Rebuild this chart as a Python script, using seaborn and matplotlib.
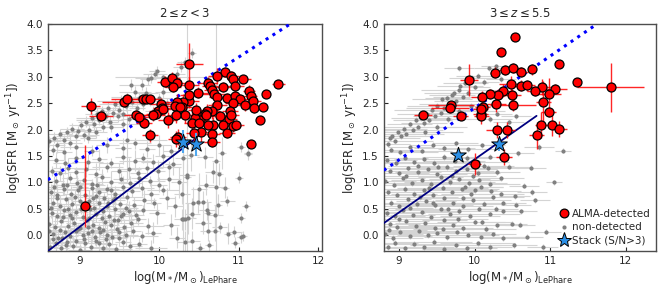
import numpy as np
import pandas as pd
import seaborn as sns
import matplotlib.pyplot as plt
from matplotlib.lines import Line2D

sns.set_style('ticks')
plt.rcParams['font.family'] = ['DejaVu Sans']
plt.rcParams['mathtext.fontset'] = 'dejavusans'

titles = [r'$2 \leq z < 3$', r'$3 \leq z \leq 5.5$']
xlims = [(8.6, 12.05), (8.8, 12.4)]
ylim = (-0.3, 4.0)
xticks = [9, 10, 11, 12]
yticks = [0.0, 0.5, 1.0, 1.5, 2.0, 2.5, 3.0, 3.5, 4.0]

# ALMA-detected sources: (logM, logSFR, xerr, yerr)
alma_lo = [
    (10.38, 3.25, .17, .38), (10.83, 3.09, .10, .10), (10.73, 3.02, .12, .15), (10.91, 3.01, .10, .10),
    (11.06, 2.96, .10, .08), (10.93, 2.96, .08, .08), (11.50, 2.87, .08, .05), (10.07, 2.91, .10, .10),
    (10.16, 2.97, .10, .12), (10.22, 2.88, .10, .12), (10.18, 2.81, .10, .10), (10.38, 2.85, .12, .15),
    (10.61, 2.88, .12, .12), (10.64, 2.82, .10, .12), (10.66, 2.75, .10, .10), (10.80, 2.81, .10, .10),
    (10.95, 2.83, .12, .10), (10.49, 2.70, .12, .10), (10.69, 2.68, .15, .12), (10.73, 2.62, .10, .10),
    (10.85, 2.60, .10, .10), (10.95, 2.63, .10, .12), (11.02, 2.57, .10, .10), (11.13, 2.74, .08, .10),
    (11.15, 2.63, .08, .10), (11.18, 2.55, .10, .10), (11.34, 2.68, .05, .05), (11.08, 2.46, .10, .10),
    (11.19, 2.41, .08, .10), (11.31, 2.43, .05, .05), (11.27, 2.18, .05, .05), (10.93, 2.50, .10, .12),
    (10.89, 2.36, .10, .10), (10.73, 2.46, .12, .12), (10.67, 2.36, .10, .15), (10.60, 2.36, .10, .12),
    (10.77, 2.25, .12, .10), (10.88, 2.20, .10, .10), (10.90, 2.28, .10, .10), (10.93, 2.06, .10, .10),
    (10.81, 2.08, .10, .12), (10.68, 2.08, .10, .15), (10.62, 2.09, .10, .10), (10.58, 2.30, .10, .12),
    (10.51, 2.19, .10, .15), (10.45, 2.22, .12, .15), (10.41, 2.13, .10, .20), (10.46, 2.38, .10, .12),
    (10.38, 2.55, .12, .15), (10.38, 2.66, .12, .15), (10.30, 2.53, .12, .15), (10.29, 2.43, .12, .15),
    (10.22, 2.52, .15, .15), (10.20, 2.45, .12, .12), (10.26, 2.43, .10, .12), (10.32, 2.27, .10, .15),
    (10.21, 2.27, .10, .15), (10.11, 2.18, .12, .15), (10.03, 2.49, .15, .10), (10.04, 2.41, .12, .10),
    (9.99, 2.36, .12, .10), (9.96, 2.30, .12, .10), (9.92, 2.27, .15, .10), (9.81, 2.13, .10, .10),
    (9.71, 2.28, .15, .10), (9.75, 2.24, .12, .10), (9.80, 2.58, .15, .08), (9.84, 2.58, .12, .08),
    (9.89, 2.58, .12, .08), (9.14, 2.44, .12, .15), (9.27, 2.26, .15, .10), (9.56, 2.53, .28, .10),
    (9.60, 2.57, .20, .10), (9.89, 1.89, .10, .12), (10.05, 2.39, .10, .10), (10.50, 2.13, .10, .15),
    (10.53, 1.96, .10, .20), (10.44, 1.93, .10, .20), (10.67, 1.92, .10, .15), (10.67, 1.77, .10, .10),
    (10.85, 1.94, .10, .10), (10.97, 2.09, .10, .10), (11.15, 1.72, .06, .05), (10.24, 1.86, .10, .15),
    (10.21, 1.82, .10, .15), (10.59, 2.28, .10, .10),
]
# low-mass detection with asymmetric SFR error: (x, y, xerr, yerr_low, yerr_high)
alma_lo_single = (9.07, 0.55, 0.07, 0.39, 1.15)

alma_hi = [
    (10.53, 3.75, .06, .04), (10.35, 3.47, .05, .05), (10.27, 3.08, .06, .10), (10.40, 3.13, .08, .10),
    (10.51, 3.17, .10, .10), (10.61, 3.09, .10, .10), (10.76, 3.14, .05, .10), (11.12, 3.24, .05, .05),
    (11.35, 2.91, .05, .05), (11.80, 2.80, .44, .46), (9.93, 2.94, .12, .30), (10.48, 2.87, .15, .15),
    (10.62, 2.83, .10, .10), (10.70, 2.84, .10, .10), (10.89, 2.80, .15, .15), (10.80, 2.73, .10, .10),
    (11.07, 2.77, .15, .10), (10.99, 2.67, .15, .30), (10.38, 2.74, .12, .12), (10.31, 2.65, .10, .12),
    (10.49, 2.65, .12, .12), (10.20, 2.67, .12, .10), (10.10, 2.62, .15, .12), (10.29, 2.49, .12, .15),
    (10.51, 2.47, .30, .12), (10.91, 2.52, .10, .40), (10.11, 2.42, .10, .10), (9.69, 2.47, .30, .08),
    (9.68, 2.41, .25, .10), (10.08, 2.30, .10, .12), (10.09, 2.25, .10, .15), (9.82, 2.26, .10, .08),
    (9.32, 2.27, .12, .05), (10.98, 2.33, .10, .10), (10.88, 2.09, .08, .25), (11.03, 2.08, .08, .20),
    (11.12, 2.01, .10, .15), (10.43, 2.00, .10, .15), (10.30, 2.00, .15, .15), (10.82, 1.89, .10, .25),
    (10.39, 1.48, .10, .15), (10.00, 1.35, .08, .20), (10.08, 2.39, .10, .10),
]

# stacked measurements: (x, y, yerr)
stack_lo = [(10.30, 1.77, 0.22), (10.46, 1.72, 0.22)]
stack_hi = [(9.78, 1.52, 0.10), (10.32, 1.72, 0.12)]

# main-sequence relations (end points)
dotted_lo = ([8.6, 11.65], [1.05, 4.0])
solid_lo = ([8.6, 10.45], [-0.3, 1.82])
dotted_hi = ([8.8, 11.62], [1.23, 4.0])
solid_hi = ([8.8, 10.82], [0.23, 2.26])

# non-detected sources: (x, y, xerr, yerr)
gray_lo = [
    (8.62, 1.78, .15, .10), (8.68, 1.85, .20, .10), (8.72, 1.70, .10, .15), (8.75, 1.92, .15, .10), (8.80, 1.80, .20, .10),
    (8.84, 1.95, .10, .10), (8.88, 1.75, .15, .12), (8.90, 2.02, .15, .10), (8.95, 1.88, .25, .10), (8.98, 1.97, .10, .10),
    (9.02, 2.08, .15, .10), (9.05, 1.90, .20, .12), (9.08, 2.15, .10, .10), (9.12, 2.00, .15, .10), (9.15, 2.22, .20, .10),
    (9.18, 2.10, .10, .12), (9.22, 2.30, .15, .10), (9.25, 2.18, .30, .10), (9.28, 2.35, .10, .10), (9.30, 2.05, .15, .10),
    (9.33, 2.25, .20, .10), (9.36, 2.40, .15, .12), (9.38, 2.15, .10, .10), (9.42, 2.32, .15, .10), (9.45, 2.48, .20, .10),
    (9.48, 2.25, .10, .10), (9.50, 2.38, .15, .10), (9.52, 2.55, .30, .10), (9.55, 2.30, .10, .12), (9.58, 2.45, .15, .10),
    (9.60, 2.62, .20, .10), (9.62, 2.20, .10, .10), (9.65, 2.85, .15, .10), (9.66, 2.52, .15, .10), (9.70, 2.72, .20, .10),
    (9.72, 2.40, .10, .10), (9.75, 2.60, .15, .12), (9.78, 2.85, .10, .10), (9.80, 2.48, .20, .10), (9.83, 2.70, .15, .10),
    (9.86, 2.95, .10, .10), (9.88, 2.55, .15, .10), (9.90, 2.98, .20, .10), (9.92, 2.35, .10, .10), (9.95, 3.05, .15, .10),
    (9.97, 3.10, .10, .10), (10.00, 2.60, .15, .10), (10.05, 2.72, .10, .12), (10.10, 2.50, .15, .10), (10.28, 3.19, .10, .10),
    (10.33, 3.28, .10, .10), (10.41, 3.45, .05, .10), (10.22, 3.05, .10, .10), (9.40, 2.05, .15, .10), (9.55, 2.10, .20, .10),
    (9.20, 1.95, .15, .10), (9.10, 1.85, .10, .10),
    (8.63, -0.22, .10, .15), (8.70, -0.15, .15, .20), (8.77, -0.25, .10, .10), (8.84, -0.12, .20, .15), (8.92, -0.20, .10, .20),
    (9.00, -0.27, .15, .10), (9.07, -0.14, .10, .15), (9.14, -0.22, .20, .20), (9.21, -0.10, .10, .10), (9.29, -0.24, .15, .15),
    (9.37, -0.17, .10, .20), (9.46, -0.26, .20, .10), (9.55, -0.13, .10, .15), (9.64, -0.21, .15, .20), (9.75, -0.16, .10, .10),
    (9.90, -0.24, .20, .15),
    (8.66, 0.02, .15, .20), (8.73, -0.05, .10, .15), (8.81, 0.06, .20, .10), (8.88, -0.02, .10, .20), (8.96, 0.08, .15, .15),
    (9.04, 0.00, .10, .10), (9.11, 0.05, .20, .20), (9.19, -0.04, .10, .15), (9.26, 0.07, .15, .10), (9.34, 0.01, .10, .20),
    (9.41, -0.03, .20, .15), (9.50, 0.06, .10, .10), (9.58, 0.00, .15, .20), (9.67, 0.09, .10, .15), (9.78, -0.02, .20, .10),
    (9.92, 0.05, .10, .20),
    (8.62, 0.22, .10, .15), (8.69, 0.15, .15, .20), (8.77, 0.27, .10, .10), (8.85, 0.18, .20, .15), (8.93, 0.24, .10, .20),
    (9.01, 0.14, .15, .10), (9.09, 0.28, .10, .15), (9.17, 0.20, .20, .20), (9.24, 0.13, .10, .10), (9.32, 0.26, .15, .15),
    (9.40, 0.19, .10, .20), (9.48, 0.29, .20, .10), (9.56, 0.16, .10, .15), (9.65, 0.23, .15, .20), (9.74, 0.30, .10, .10),
    (9.86, 0.18, .20, .15),
    (8.65, 0.42, .15, .20), (8.72, 0.36, .10, .15), (8.80, 0.47, .20, .10), (8.88, 0.39, .10, .20), (8.96, 0.44, .15, .15),
    (9.04, 0.35, .10, .10), (9.13, 0.49, .20, .20), (9.21, 0.40, .10, .15), (9.29, 0.46, .15, .10), (9.37, 0.37, .10, .20),
    (9.45, 0.50, .20, .15), (9.54, 0.41, .10, .10), (9.62, 0.45, .15, .20), (9.71, 0.38, .10, .15), (9.80, 0.48, .20, .10),
    (9.97, 0.42, .10, .20),
    (8.67, 0.62, .10, .15), (8.75, 0.56, .15, .20), (8.83, 0.68, .10, .10), (8.91, 0.59, .20, .15), (9.00, 0.65, .10, .20),
    (9.09, 0.57, .15, .10), (9.17, 0.70, .10, .15), (9.25, 0.61, .20, .20), (9.34, 0.55, .10, .10), (9.42, 0.67, .15, .15),
    (9.51, 0.60, .10, .20), (9.60, 0.72, .20, .10), (9.69, 0.58, .10, .15), (9.81, 0.66, .15, .20), (9.93, 0.61, .10, .10),
    (8.64, 0.82, .15, .15), (8.72, 0.77, .10, .20), (8.80, 0.88, .20, .10), (8.89, 0.79, .10, .15), (8.98, 0.85, .15, .20),
    (9.07, 0.76, .10, .10), (9.16, 0.90, .20, .15), (9.25, 0.81, .10, .20), (9.34, 0.87, .15, .10), (9.44, 0.78, .10, .15),
    (9.55, 0.92, .20, .20), (9.66, 0.83, .10, .10), (9.78, 0.89, .15, .15), (9.90, 0.79, .10, .20), (10.05, 0.86, .20, .10),
    (8.70, 1.02, .10, .15), (8.79, 0.96, .15, .20), (8.88, 1.08, .10, .10), (8.97, 0.99, .20, .15), (9.06, 1.05, .10, .20),
    (9.15, 0.97, .15, .10), (9.28, 1.10, .10, .15), (9.40, 1.01, .20, .20), (9.52, 1.07, .10, .10), (9.63, 0.98, .15, .15),
    (9.75, 1.09, .10, .20), (9.88, 1.03, .20, .10), (10.00, 0.96, .10, .15), (10.12, 1.06, .15, .20),
    (8.65, 1.22, .15, .10), (8.75, 1.17, .10, .15), (8.86, 1.27, .20, .20), (8.96, 1.19, .10, .10), (9.08, 1.25, .15, .15),
    (9.20, 1.16, .10, .20), (9.35, 1.29, .20, .10), (9.50, 1.21, .10, .15), (9.62, 1.26, .15, .20), (9.74, 1.18, .10, .10),
    (9.85, 1.28, .20, .15), (9.98, 1.22, .10, .20), (10.12, 1.30, .15, .10),
    (8.70, 1.42, .10, .15), (8.82, 1.36, .15, .20), (8.95, 1.47, .10, .10), (9.10, 1.39, .20, .15), (9.25, 1.44, .10, .20),
    (9.40, 1.37, .15, .10), (9.55, 1.49, .10, .15), (9.70, 1.41, .20, .20), (9.80, 1.46, .10, .10), (9.92, 1.38, .15, .15),
    (10.05, 1.50, .10, .20),
    (8.66, 1.62, .15, .10), (8.80, 1.57, .10, .15), (8.95, 1.68, .20, .20), (9.15, 1.60, .10, .10), (9.35, 1.71, .15, .15),
    (9.55, 1.65, .10, .20), (9.70, 1.74, .20, .10), (9.85, 1.63, .10, .15), (10.00, 1.70, .15, .20), (10.15, 1.60, .10, .10),
    (8.67, -0.08, .10, .15), (8.75, 0.10, .15, .10), (8.83, -0.18, .10, .20), (8.90, 0.32, .20, .15), (8.98, 0.12, .10, .10),
    (9.05, -0.08, .15, .20), (9.12, 0.33, .10, .15), (9.18, 0.52, .20, .10), (9.24, -0.15, .10, .20), (9.30, 0.10, .15, .15),
    (9.36, 0.62, .10, .10), (9.43, 0.28, .20, .20), (9.50, -0.06, .10, .15), (9.58, 0.52, .15, .10), (8.64, 0.52, .10, .20),
    (8.72, 0.70, .20, .15), (8.79, 0.34, .10, .10), (8.86, 0.50, .15, .20), (8.94, 0.72, .10, .15), (9.02, 0.50, .20, .10),
    (9.10, 0.15, .10, .20), (9.20, 0.75, .15, .15), (9.28, 0.33, .10, .10), (9.39, 0.85, .20, .20), (9.47, 0.12, .10, .15),
    (9.52, 0.36, .15, .10), (8.68, 0.92, .10, .20), (8.84, 0.95, .20, .15), (9.00, 0.92, .10, .10), (9.12, 0.65, .15, .20),
    (9.22, 0.95, .10, .15), (9.31, 0.70, .20, .10), (8.61, 0.08, .10, .20), (8.78, -0.05, .15, .15), (8.95, -0.10, .10, .10),
    (9.16, 0.08, .20, .20), (9.33, -0.08, .10, .15), (9.45, 0.70, .15, .10),
    (10.30, 1.47, .10, .20), (10.40, 1.52, .10, .30), (10.58, 1.48, .10, .20), (10.79, 1.56, .05, .30), (11.12, 1.53, .05, .10),
    (10.35, 1.15, .10, .20), (10.68, 1.19, .10, .20), (10.75, 1.16, .05, .20), (11.01, 1.09, .05, .10), (10.72, 0.92, .10, .30),
    (10.83, 0.90, .05, .20), (10.59, 0.96, .10, .20), (10.50, 0.87, .10, .30), (10.29, 0.79, .10, .20), (10.43, 0.62, .10, .30),
    (10.49, 0.63, .05, .20), (10.55, 0.63, .10, .20), (10.74, 0.58, .05, .20), (10.86, 0.65, .10, .10), (11.09, 0.55, .05, .10),
    (10.60, 0.48, .10, .20), (10.61, 0.43, .05, .20), (10.42, 0.41, .10, .30), (10.70, 0.38, .10, .20), (10.29, 0.30, .10, .20),
    (10.33, 0.30, .05, .20), (10.36, 0.32, .10, .30), (11.03, 0.33, .05, .10), (10.55, 0.23, .10, .20), (10.61, 0.09, .10, .20),
    (10.70, 0.09, .05, .20), (10.76, 0.15, .10, .10), (10.87, 0.03, .05, .20), (10.94, 0.07, .10, .10), (11.03, -0.04, .05, .10),
    (11.05, -0.01, .05, .10), (10.95, -0.14, .05, .10), (10.41, -0.11, .10, .20), (10.33, -0.12, .10, .20), (10.63, -0.19, .05, .10),
    (10.51, -0.25, .05, .10), (10.20, 0.55, .10, .20), (10.15, 0.20, .10, .20), (10.22, -0.05, .10, .20), (10.10, 0.70, .10, .20),
    (10.25, 1.00, .10, .30), (10.18, 1.35, .10, .20), (11.03, 1.67, .05, .10), (11.12, 1.56, .05, .10),
    (10.35, 1.10, .05, 2.90), (10.72, 1.40, .05, 2.60), (10.05, 3.00, .60, .05), (9.60, 1.80, .50, .80), (10.30, 0.30, .05, 1.50),
]

gray_hi = [
    (8.85, 1.72, .3, .05), (8.88, 1.85, .4, .05), (8.91, 1.87, .3, .05), (8.95, 1.78, .5, .05), (8.99, 1.95, .3, .05),
    (9.03, 1.88, .4, .05), (9.07, 2.02, .3, .05), (9.10, 1.92, .5, .05), (9.14, 2.10, .3, .05), (9.18, 2.00, .4, .05),
    (9.22, 2.18, .3, .05), (9.25, 2.05, .5, .05), (9.29, 2.22, .4, .05), (9.33, 2.12, .3, .05), (9.37, 2.30, .4, .05),
    (9.40, 2.18, .3, .05), (9.44, 2.38, .5, .05), (9.48, 2.25, .3, .05), (9.51, 2.45, .4, .05), (9.55, 2.32, .3, .05),
    (9.57, 2.57, .4, .05), (9.60, 2.40, .5, .05), (9.64, 2.60, .3, .05), (9.67, 2.48, .4, .05), (9.70, 2.66, .3, .05),
    (9.73, 2.69, .4, .05), (9.76, 2.55, .3, .05), (9.79, 2.75, .5, .05), (9.81, 2.82, .3, .05), (9.85, 2.62, .4, .05),
    (9.88, 2.88, .3, .05), (9.92, 2.70, .4, .05), (9.96, 2.98, .3, .05), (10.00, 2.80, .2, .05), (10.05, 3.02, .3, .05),
    (10.12, 2.90, .2, .05), (10.19, 3.16, .2, .05), (10.28, 3.20, .2, .05), (9.79, 3.16, .2, .05), (10.35, 2.95, .2, .05),
    (9.50, 2.05, .4, .05), (9.35, 1.95, .5, .05), (9.65, 2.20, .3, .05), (9.80, 2.35, .4, .05), (9.95, 2.45, .3, .05),
    (10.10, 2.35, .3, .05), (10.20, 2.20, .3, .05), (10.30, 2.30, .2, .05), (10.45, 2.15, .2, .05), (10.55, 2.25, .2, .05),
    (8.85, -0.22, .4, .05), (8.95, -0.14, .3, .05), (9.08, -0.25, .5, .05), (9.20, -0.16, .6, .05), (9.33, -0.23, .4, .05),
    (9.47, -0.12, .5, .05), (9.60, -0.26, .3, .05), (9.75, -0.18, .6, .05), (9.90, -0.24, .4, .05), (10.04, -0.15, .5, .05),
    (10.20, -0.22, .3, .05), (10.52, -0.19, .3, .05),
    (8.82, 0.02, .5, .05), (8.92, -0.05, .4, .05), (9.02, 0.06, .6, .05), (9.14, -0.02, .3, .05), (9.26, 0.08, .5, .05),
    (9.38, 0.00, .4, .05), (9.50, 0.05, .7, .05), (9.63, -0.04, .3, .05), (9.77, 0.07, .5, .05), (9.92, 0.01, .4, .05),
    (10.08, -0.03, .6, .05), (10.25, 0.02, .3, .05), (10.70, -0.03, .2, .05),
    (8.88, 0.22, .4, .05), (8.98, 0.15, .5, .05), (9.10, 0.27, .3, .05), (9.22, 0.18, .6, .05), (9.35, 0.24, .4, .05),
    (9.48, 0.14, .5, .05), (9.60, 0.28, .3, .05), (9.72, 0.20, .6, .05), (9.85, 0.13, .4, .05), (10.00, 0.26, .5, .05),
    (10.10, 0.25, .3, .05), (10.30, 0.19, .4, .05), (10.50, 0.22, .2, .05),
    (8.84, 0.42, .5, .05), (8.95, 0.36, .4, .05), (9.06, 0.47, .6, .05), (9.18, 0.39, .3, .05), (9.30, 0.44, .5, .05),
    (9.42, 0.35, .4, .05), (9.55, 0.49, .6, .05), (9.68, 0.40, .3, .05), (9.80, 0.46, .5, .05), (9.94, 0.37, .4, .05),
    (10.06, 0.50, .3, .05), (10.20, 0.41, .4, .05), (10.38, 0.45, .3, .05),
    (8.90, 0.62, .4, .05), (9.00, 0.56, .5, .05), (9.12, 0.68, .3, .05), (9.24, 0.59, .6, .05), (9.36, 0.65, .4, .05),
    (9.48, 0.57, .5, .05), (9.60, 0.70, .3, .05), (9.72, 0.61, .6, .05), (9.85, 0.55, .4, .05), (9.98, 0.67, .5, .05),
    (10.12, 0.60, .3, .05), (10.25, 0.72, .4, .05), (10.38, 0.62, .3, .05), (10.55, 0.58, .2, .05),
    (8.86, 0.82, .5, .05), (8.97, 0.77, .4, .05), (9.08, 0.88, .6, .05), (9.20, 0.79, .3, .05), (9.33, 0.85, .5, .05),
    (9.45, 0.76, .4, .05), (9.58, 0.90, .6, .05), (9.70, 0.81, .3, .05), (9.83, 0.87, .5, .05), (9.95, 0.78, .4, .05),
    (10.08, 0.92, .3, .05), (10.22, 0.83, .4, .05), (10.35, 0.79, .3, .05), (10.76, 0.82, .2, .05),
    (8.82, 1.02, .4, .05), (8.93, 0.96, .5, .05), (9.05, 1.08, .3, .05), (9.17, 0.99, .6, .05), (9.30, 1.05, .4, .05),
    (9.42, 0.97, .5, .05), (9.55, 1.10, .3, .05), (9.67, 1.01, .6, .05), (9.80, 1.07, .4, .05), (9.93, 0.98, .5, .05),
    (10.06, 1.04, .3, .05), (10.20, 0.97, .4, .05), (10.35, 1.08, .3, .05), (10.65, 0.94, .2, .05),
    (8.88, 1.22, .5, .05), (9.00, 1.17, .4, .05), (9.12, 1.27, .6, .05), (9.25, 1.19, .3, .05), (9.38, 1.25, .5, .05),
    (9.50, 1.16, .4, .05), (9.63, 1.29, .3, .05), (9.76, 1.21, .5, .05), (9.90, 1.26, .4, .05), (10.04, 1.18, .3, .05),
    (10.18, 1.28, .4, .05), (10.30, 1.20, .3, .05), (10.75, 1.28, .2, .05),
    (8.84, 1.42, .4, .05), (8.96, 1.36, .5, .05), (9.08, 1.47, .3, .05), (9.20, 1.39, .6, .05), (9.33, 1.44, .4, .05),
    (9.46, 1.37, .5, .05), (9.60, 1.48, .3, .05), (9.74, 1.41, .4, .05), (9.90, 1.46, .3, .05), (10.05, 1.38, .4, .05),
    (10.20, 1.49, .3, .05),
    (8.90, 1.62, .4, .05), (9.02, 1.57, .5, .05), (9.15, 1.68, .3, .05), (9.30, 1.60, .4, .05), (9.45, 1.71, .3, .05),
    (9.60, 1.65, .4, .05), (9.75, 1.74, .3, .05), (9.92, 1.63, .4, .05), (10.10, 1.70, .3, .05), (10.85, 1.67, .2, .05),
    (11.17, 1.60, .1, .05),
    (8.87, 0.10, .5, .05), (9.00, 0.30, .4, .05), (9.15, 0.52, .3, .05), (9.28, 0.72, .5, .05), (9.40, 0.90, .4, .05),
    (9.52, 1.30, .3, .05), (9.65, 0.50, .6, .05), (9.78, 0.30, .4, .05), (9.88, 0.92, .5, .05), (9.98, 1.12, .3, .05),
    (10.15, 0.12, .4, .05), (10.28, 0.50, .3, .05), (9.10, 1.12, .5, .05), (9.25, 1.32, .4, .05), (9.45, 0.62, .5, .05),
    (9.58, 0.12, .4, .05), (9.70, 1.12, .3, .05), (9.85, 0.70, .4, .05), (10.00, 0.85, .3, .05), (10.12, 1.32, .4, .05),
    (10.53, 0.74, .2, .05), (10.62, 0.45, .2, .05), (10.80, 0.66, .2, .05), (10.45, 1.30, .3, .05), (10.58, 1.55, .2, .05),
    (10.90, -0.22, .2, .05), (10.38, -0.05, .3, .05), (11.05, 1.00, .1, .05), (10.60, 0.20, .2, .05), (10.94, 0.07, .2, .05),
]

fig = plt.figure(figsize=(6.64, 2.92), dpi=100)
axes = [fig.add_axes([0.072, 0.14, 0.413, 0.778]),
        fig.add_axes([0.578, 0.14, 0.410, 0.778])]

panels = [
    (gray_lo, alma_lo, stack_lo, dotted_lo, solid_lo),
    (gray_hi, alma_hi, stack_hi, dotted_hi, solid_hi),
]

for i, (ax, (gray, alma, stack, dotted, solid)) in enumerate(zip(axes, panels)):
    g = pd.DataFrame(gray, columns=['x', 'y', 'ex', 'ey'])
    a = pd.DataFrame(alma, columns=['x', 'y', 'ex', 'ey'])
    s = pd.DataFrame(stack, columns=['x', 'y', 'ey'])

    ax.errorbar(g.x, g.y, xerr=g.ex, yerr=g.ey, fmt='none', ecolor='#d4d4d4',
                elinewidth=0.8, zorder=1)
    sns.scatterplot(data=g, x='x', y='y', ax=ax, color='gray', s=9,
                    linewidth=0, zorder=2, legend=False)

    sns.lineplot(x=dotted[0], y=dotted[1], ax=ax, color='blue', linestyle=':',
                 linewidth=2.2, zorder=3)
    sns.lineplot(x=solid[0], y=solid[1], ax=ax, color='navy', linewidth=1.3,
                 zorder=3)

    ax.errorbar(a.x, a.y, xerr=a.ex, yerr=a.ey, fmt='none', ecolor='red',
                elinewidth=1.0, alpha=0.85, zorder=4)
    if i == 0:
        x0, y0, ex0, lo0, hi0 = alma_lo_single
        ax.errorbar([x0], [y0], xerr=[ex0], yerr=[[lo0], [hi0]], fmt='none',
                    ecolor='red', elinewidth=1.0, alpha=0.85, zorder=4)
        ax.scatter([x0], [y0], s=42, color='red', edgecolor='black',
                   linewidth=0.9, zorder=5)
    sns.scatterplot(data=a, x='x', y='y', ax=ax, color='red', s=42,
                    edgecolor='black', linewidth=0.9, zorder=5, legend=False)

    ax.errorbar(s.x, s.y, yerr=s.ey, fmt='none', ecolor='#4fa8ef',
                elinewidth=1.5, zorder=6)
    sns.scatterplot(data=s, x='x', y='y', ax=ax, marker='*', color='#2b8fe6',
                    s=140, edgecolor='black', linewidth=0.7, zorder=7, legend=False)

    ax.set_xlim(*xlims[i])
    ax.set_ylim(*ylim)
    ax.set_xticks(xticks)
    ax.set_yticks(yticks)
    ax.set_title(titles[i], fontsize=8.5, pad=5)
    ax.set_xlabel(r'log(M$_*$/M$_\odot$)$_{\rm LePhare}$', fontsize=8.5, labelpad=2)
    ax.set_ylabel(r'log(SFR [M$_\odot$ yr$^{-1}$])', fontsize=8.5, labelpad=2)
    ax.tick_params(direction='in', labelsize=7.5, length=3, width=0.8)
    for sp in ax.spines.values():
        sp.set_color('0.3')
        sp.set_linewidth(1.0)

handles = [
    Line2D([], [], ls='', marker='o', mfc='red', mec='black', mew=0.9, ms=6.3),
    Line2D([], [], ls='', marker='o', mfc='gray', mec='none', ms=3),
    Line2D([], [], ls='', marker='*', mfc='#2b8fe6', mec='black', mew=0.7, ms=11),
]
labels = ['ALMA-detected', 'non-detected', 'Stack (S/N>3)']
axes[1].legend(handles, labels, loc='lower right', frameon=False, fontsize=7.5,
               handletextpad=0.1, borderaxespad=0.1, labelspacing=0.35,
               handlelength=1.4)

fig.savefig('out.png', dpi=100)
